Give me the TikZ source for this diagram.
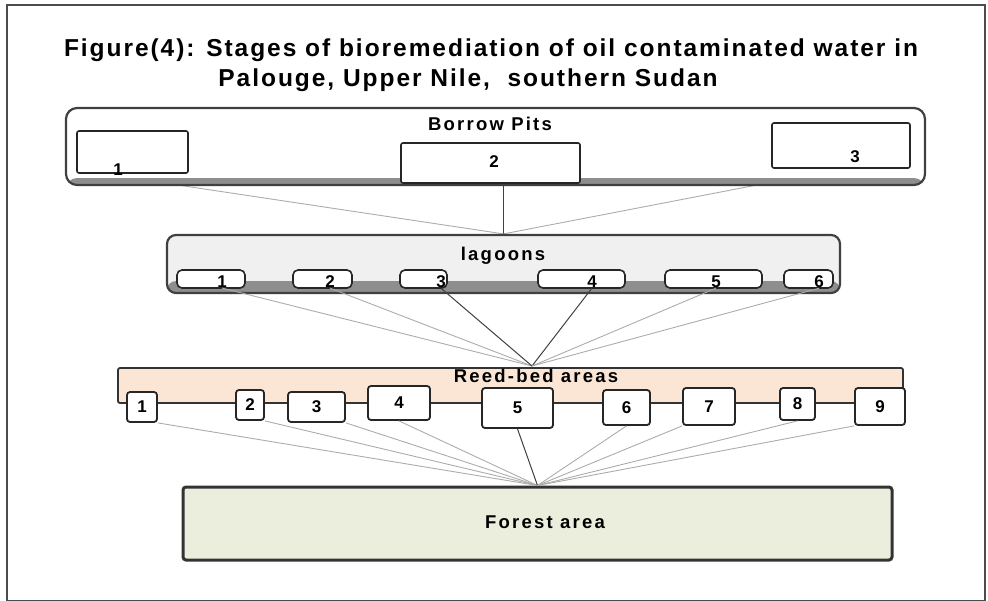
\documentclass[tikz,border=0pt]{standalone}
\usepackage{fontspec}
\setmainfont{Liberation Sans}
\newfontfamily\ttlfont[LetterSpace=8]{Liberation Sans}
\newfontfamily\lblfont[LetterSpace=12]{Liberation Sans}
\usetikzlibrary{backgrounds}
\definecolor{lagfill}{HTML}{F0F0F0}
\definecolor{reedfill}{HTML}{FBE6D6}
\definecolor{forfill}{HTML}{EBEEDD}
\definecolor{bandgray}{HTML}{8E8E8E}
\begin{document}
\begin{tikzpicture}[x=1pt,y=-1pt,
  ttl/.style={font=\fontsize{24.5}{28}\selectfont\ttlfont\bfseries, inner sep=0pt},
  grplbl/.style={font=\fontsize{18.5}{21}\selectfont\lblfont\bfseries, inner sep=0pt},
  num/.style={font=\fontsize{17}{19}\selectfont\bfseries, inner sep=0pt},
  grp/.style={draw=black!75, line width=2.2pt, rounded corners=11pt, inner sep=0pt},
  pit/.style={draw=black!85, line width=1.6pt, fill=white, rounded corners=2pt, inner sep=0pt},
  lagbox/.style={draw=black!85, line width=1.6pt, fill=white, rounded corners=5pt, inner sep=0pt},
  reedbox/.style={draw=black!85, line width=1.8pt, fill=white, rounded corners=3pt, inner sep=0pt, font=\fontsize{17}{19}\selectfont\bfseries},
  link/.style={draw=gray!65, line width=0.9pt},
  darklink/.style={draw=black!75, line width=1pt}]
\useasboundingbox (0,0) rectangle (988,600);
\draw[black!70, line width=1.2pt] (7,5) rectangle (985,601);

% title
\node[ttl] (t1) at (491,50) {Figure(4): Stages of bioremediation of oil contaminated water in};
\node[ttl] (t2) at (468,80) {Palouge, Upper Nile,\ \ southern Sudan};

% borrow pits
\node[grp, fill=white, minimum width=859pt, minimum height=77pt,
  path picture={\fill[bandgray] (path picture bounding box.south west) rectangle ([yshift=7pt]path picture bounding box.south east);}]
  (bp) at (495.5,146.5) {};
\node[grplbl] (bpt) at (490,124) {Borrow Pits};
\node[pit, minimum width=111pt, minimum height=42pt] (p1) at (132.5,152) {};
\node[pit, minimum width=179pt, minimum height=40pt] (p2) at (490.5,163) {};
\node[pit, minimum width=138pt, minimum height=45pt] (p3) at (841,145.5) {};
\node[num] (pl1) at (118,170) {1};
\node[num] (pl2) at (494,162) {2};
\node[num] (pl3) at (855,157) {3};

% lagoons
\node[grp, fill=lagfill, minimum width=673pt, minimum height=58pt, rounded corners=9pt,
  path picture={\fill[bandgray] (path picture bounding box.south west) rectangle ([yshift=12pt]path picture bounding box.south east);}]
  (lag) at (503.5,264) {};
\node[grplbl] (lagt) at (503,256) {lagoons};
\node[lagbox, minimum width=68pt, minimum height=18pt] (l1) at (211,279) {};
\node[lagbox, minimum width=59pt, minimum height=18pt] (l2) at (322.5,279) {};
\node[lagbox, minimum width=47pt, minimum height=18pt] (l3) at (423.5,279) {};
\node[lagbox, minimum width=87pt, minimum height=18pt] (l4) at (581.5,279) {};
\node[lagbox, minimum width=97pt, minimum height=18pt] (l5) at (713.5,279) {};
\node[lagbox, minimum width=49pt, minimum height=18pt] (l6) at (808.5,279) {};
\node[num] (ll1) at (222,282) {1};
\node[num] (ll2) at (330,282) {2};
\node[num] (ll3) at (441,282) {3};
\node[num] (ll4) at (592,282) {4};
\node[num] (ll5) at (716,282) {5};
\node[num] (ll6) at (819,282) {6};

% reed-bed areas
\node[draw=black!80, line width=1.8pt, fill=reedfill, rounded corners=2pt, minimum width=785pt, minimum height=35pt, inner sep=0pt] (reed) at (510.5,385.5) {};
\node[grplbl] (reedt) at (536,376) {Reed-bed areas};
\coordinate (rt) at (532,366);
\node[reedbox, minimum width=30pt, minimum height=30pt] (r1) at (142,407) {1};
\node[reedbox, minimum width=28pt, minimum height=30pt] (r2) at (250,405) {2};
\node[reedbox, minimum width=57pt, minimum height=30pt] (r3) at (316.5,407) {3};
\node[reedbox, minimum width=62pt, minimum height=34pt] (r4) at (399,403) {4};
\node[reedbox, minimum width=71pt, minimum height=40pt] (r5) at (517.5,408) {5};
\node[reedbox, minimum width=47pt, minimum height=35pt] (r6) at (626.5,407.5) {6};
\node[reedbox, minimum width=52pt, minimum height=37pt] (r7) at (709,406.5) {7};
\node[reedbox, minimum width=35pt, minimum height=32pt] (r8) at (797.5,404) {8};
\node[reedbox, minimum width=50pt, minimum height=37pt] (r9) at (880,406.5) {9};

% forest area
\node[draw=black!80, line width=3pt, fill=forfill, rounded corners=3pt, minimum width=709pt, minimum height=73pt, inner sep=0pt] (for) at (537.5,523.5) {};
\node[grplbl] (fort) at (545,522) {Forest area};

% connectors
\begin{pgfonlayer}{background}
\draw[link] (pl1.south) -- (lag.north);
\draw[darklink] (p2.south -| lag.north) -- (lag.north);
\draw[link] (p3.south) -- (lag.north);
\end{pgfonlayer}
\draw[link] (ll1.south) -- (rt);
\draw[link] (ll2.south) -- (rt);
\draw[darklink] (ll3.south) -- (rt);
\draw[darklink] (ll4.south) -- (rt);
\draw[link] (ll5.south) -- (rt);
\draw[link] (ll6.south) -- (rt);
\draw[link] (r1.south east) -- (for.north);
\draw[link] (r2.south east) -- (for.north);
\draw[link] (r3.south east) -- (for.north);
\draw[link] (r4.south) -- (for.north);
\draw[darklink] (r5.south) -- (for.north);
\draw[link] (r6.south) -- (for.north);
\draw[link] (r7.south west) -- (for.north);
\draw[link] (r8.south) -- (for.north);
\draw[link] (r9.south west) -- (for.north);
\end{tikzpicture}
\end{document}
